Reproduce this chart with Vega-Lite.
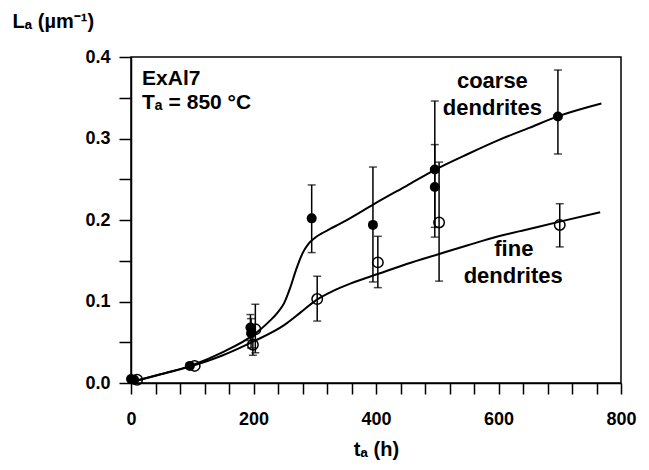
{
  "$schema": "https://vega.github.io/schema/vega-lite/v6.json",
  "width": 490,
  "height": 326,
  "autosize": {"type": "none"},
  "padding": {"left": 131, "top": 57, "right": 28, "bottom": 87},
  "background": "white",
  "config": {"view": {"stroke": "black", "strokeWidth": 1.5}, "font": "Liberation Sans", "axis": {"labelOverlap": false, "grid": false}},
  "datasets": {
    "curves": [
      {"series": "coarse", "t": 10, "L": 0.003}, {"series": "coarse", "t": 50, "L": 0.011}, {"series": "coarse", "t": 100, "L": 0.022},
      {"series": "coarse", "t": 150, "L": 0.038}, {"series": "coarse", "t": 200, "L": 0.059}, {"series": "coarse", "t": 225, "L": 0.075},
      {"series": "coarse", "t": 240, "L": 0.087}, {"series": "coarse", "t": 250, "L": 0.098}, {"series": "coarse", "t": 260, "L": 0.117},
      {"series": "coarse", "t": 270, "L": 0.140}, {"series": "coarse", "t": 280, "L": 0.159}, {"series": "coarse", "t": 290, "L": 0.171},
      {"series": "coarse", "t": 300, "L": 0.178}, {"series": "coarse", "t": 310, "L": 0.183}, {"series": "coarse", "t": 325, "L": 0.189},
      {"series": "coarse", "t": 350, "L": 0.199},
      {"series": "coarse", "t": 400, "L": 0.221}, {"series": "coarse", "t": 450, "L": 0.242}, {"series": "coarse", "t": 500, "L": 0.263},
      {"series": "coarse", "t": 550, "L": 0.281}, {"series": "coarse", "t": 600, "L": 0.298}, {"series": "coarse", "t": 650, "L": 0.313},
      {"series": "coarse", "t": 700, "L": 0.328}, {"series": "coarse", "t": 768, "L": 0.343},
      {"series": "fine", "t": 10, "L": 0.003}, {"series": "fine", "t": 50, "L": 0.011}, {"series": "fine", "t": 100, "L": 0.021},
      {"series": "fine", "t": 150, "L": 0.034}, {"series": "fine", "t": 200, "L": 0.051}, {"series": "fine", "t": 250, "L": 0.071},
      {"series": "fine", "t": 276, "L": 0.086}, {"series": "fine", "t": 303, "L": 0.102}, {"series": "fine", "t": 330, "L": 0.113},
      {"series": "fine", "t": 358, "L": 0.122}, {"series": "fine", "t": 404, "L": 0.134}, {"series": "fine", "t": 450, "L": 0.146},
      {"series": "fine", "t": 502, "L": 0.158}, {"series": "fine", "t": 550, "L": 0.169}, {"series": "fine", "t": 600, "L": 0.180},
      {"series": "fine", "t": 650, "L": 0.189}, {"series": "fine", "t": 700, "L": 0.198}, {"series": "fine", "t": 766, "L": 0.2095}
    ],
    "coarsePts": [
      {"t": 0, "L": 0.005}, {"t": 5, "L": 0.004}, {"t": 96, "L": 0.021}, {"t": 195, "L": 0.068}, {"t": 196, "L": 0.061},
      {"t": 295, "L": 0.202}, {"t": 395, "L": 0.194}, {"t": 496, "L": 0.262}, {"t": 496, "L": 0.2405}, {"t": 697, "L": 0.327}
    ],
    "finePts": [
      {"t": 10, "L": 0.004}, {"t": 104, "L": 0.021}, {"t": 199, "L": 0.047}, {"t": 203, "L": 0.066}, {"t": 304, "L": 0.103},
      {"t": 403, "L": 0.148}, {"t": 503, "L": 0.197}, {"t": 700, "L": 0.194}
    ],
    "bars": [
      {"t": 195, "L": 0.052, "L2": 0.084}, {"t": 196, "L": 0.043, "L2": 0.079}, {"t": 295, "L": 0.160, "L2": 0.243},
      {"t": 395, "L": 0.124, "L2": 0.265}, {"t": 496, "L": 0.179, "L2": 0.346}, {"t": 496, "L": 0.191, "L2": 0.2925},
      {"t": 697, "L": 0.281, "L2": 0.384},
      {"t": 199, "L": 0.034, "L2": 0.060}, {"t": 203, "L": 0.037, "L2": 0.0966}, {"t": 304, "L": 0.076, "L2": 0.131},
      {"t": 403, "L": 0.117, "L2": 0.180}, {"t": 503, "L": 0.125, "L2": 0.271}, {"t": 700, "L": 0.167, "L2": 0.220}
    ],
    "caps": [
      {"t": 195, "L": 0.052}, {"t": 195, "L": 0.084}, {"t": 196, "L": 0.043}, {"t": 196, "L": 0.079},
      {"t": 295, "L": 0.160}, {"t": 295, "L": 0.243}, {"t": 395, "L": 0.124}, {"t": 395, "L": 0.265},
      {"t": 496, "L": 0.179}, {"t": 496, "L": 0.346}, {"t": 496, "L": 0.191}, {"t": 496, "L": 0.2925},
      {"t": 697, "L": 0.281}, {"t": 697, "L": 0.384},
      {"t": 199, "L": 0.034}, {"t": 199, "L": 0.060}, {"t": 203, "L": 0.037}, {"t": 203, "L": 0.0966},
      {"t": 304, "L": 0.076}, {"t": 304, "L": 0.131}, {"t": 403, "L": 0.117}, {"t": 403, "L": 0.180},
      {"t": 503, "L": 0.125}, {"t": 503, "L": 0.271}, {"t": 700, "L": 0.167}, {"t": 700, "L": 0.220}
    ],
    "leftText": [
      {"t": 18, "L": 0.3725, "text": "ExAl7"}, {"t": 18, "L": 0.343, "text": "Tₐ = 850 °C"}
    ],
    "centerText": [
      {"t": 590, "L": 0.371, "text": "coarse"}, {"t": 590, "L": 0.337, "text": "dendrites"},
      {"t": 625, "L": 0.165, "text": "fine"}, {"t": 624, "L": 0.131, "text": "dendrites"}
    ]
  },
  "encoding": {
    "x": {
      "field": "t", "type": "quantitative", "title": "tₐ (h)",
      "scale": {"domain": [0, 800], "nice": false},
      "axis": {
        "values": [0,40,80,120,160,200,240,280,320,360,400,440,480,520,560,600,640,680,720,760,800],
        "labelExpr": "datum.value % 200 === 0 ? datum.label : ''",
        "labelFlush": false, "labelOverlap": false, "grid": false,
        "tickSize": 11, "tickWidth": 1.5, "tickColor": "black",
        "domainColor": "black", "domainWidth": 1.5,
        "labelFont": "Liberation Sans", "labelFontWeight": "bold", "labelFontSize": 18, "labelColor": "black", "labelPadding": 16,
        "titleFont": "Liberation Sans", "titleFontSize": 20, "titleFontWeight": "bold", "titleColor": "black", "titlePadding": 11,
        "encode": {"ticks": {"update": {"y2": {"signal": "datum.value % 200 === 0 ? 11 : 6"}}}}
      }
    },
    "y": {
      "field": "L", "type": "quantitative", "title": "Lₐ (µm⁻¹)",
      "scale": {"domain": [0, 0.4], "nice": false},
      "axis": {
        "values": [0,0.05,0.1,0.15,0.2,0.25,0.3,0.35,0.4],
        "format": ".1f",
        "labelExpr": "abs(datum.value*10 - round(datum.value*10)) < 0.001 ? datum.label : ''",
        "labelOverlap": false, "labelFlush": false, "grid": false,
        "tickSize": 12, "tickWidth": 1.5, "tickColor": "black",
        "domainColor": "black", "domainWidth": 1.5,
        "labelFont": "Liberation Sans", "labelFontWeight": "bold", "labelFontSize": 18, "labelColor": "black", "labelPadding": 9,
        "titleFont": "Liberation Sans", "titleFontSize": 20, "titleFontWeight": "bold", "titleColor": "black",
        "titleAngle": 0, "titleAlign": "left", "titleBaseline": "alphabetic", "titleX": -119, "titleY": -30,
        "encode": {"ticks": {"update": {"x2": {"signal": "abs(datum.value*10 - round(datum.value*10)) < 0.001 ? -12 : -6"}}}}
      }
    }
  },
  "layer": [
    {
      "data": {"name": "curves"},
      "mark": {"type": "line", "interpolate": "monotone", "color": "black", "strokeWidth": 2},
      "encoding": {"detail": {"field": "series"}}
    },
    {
      "data": {"name": "bars"},
      "mark": {"type": "rule", "color": "black", "strokeWidth": 1.5},
      "encoding": {"y2": {"field": "L2"}}
    },
    {
      "data": {"name": "caps"},
      "mark": {"type": "tick", "orient": "horizontal", "size": 8, "thickness": 1.5, "color": "black"}
    },
    {
      "data": {"name": "coarsePts"},
      "mark": {"type": "point", "shape": "circle", "filled": true, "color": "black", "size": 100, "opacity": 1}
    },
    {
      "data": {"name": "finePts"},
      "mark": {"type": "point", "shape": "circle", "filled": false, "color": "black", "strokeWidth": 1.5, "size": 110, "opacity": 1}
    },
    {
      "data": {"name": "leftText"},
      "mark": {"type": "text", "align": "left", "baseline": "middle", "font": "Liberation Sans", "fontWeight": "bold", "fontSize": 21, "color": "black"},
      "encoding": {"text": {"field": "text"}}
    },
    {
      "data": {"name": "centerText"},
      "mark": {"type": "text", "align": "center", "baseline": "middle", "font": "Liberation Sans", "fontWeight": "bold", "fontSize": 22, "color": "black"},
      "encoding": {"text": {"field": "text"}}
    }
  ]
}
